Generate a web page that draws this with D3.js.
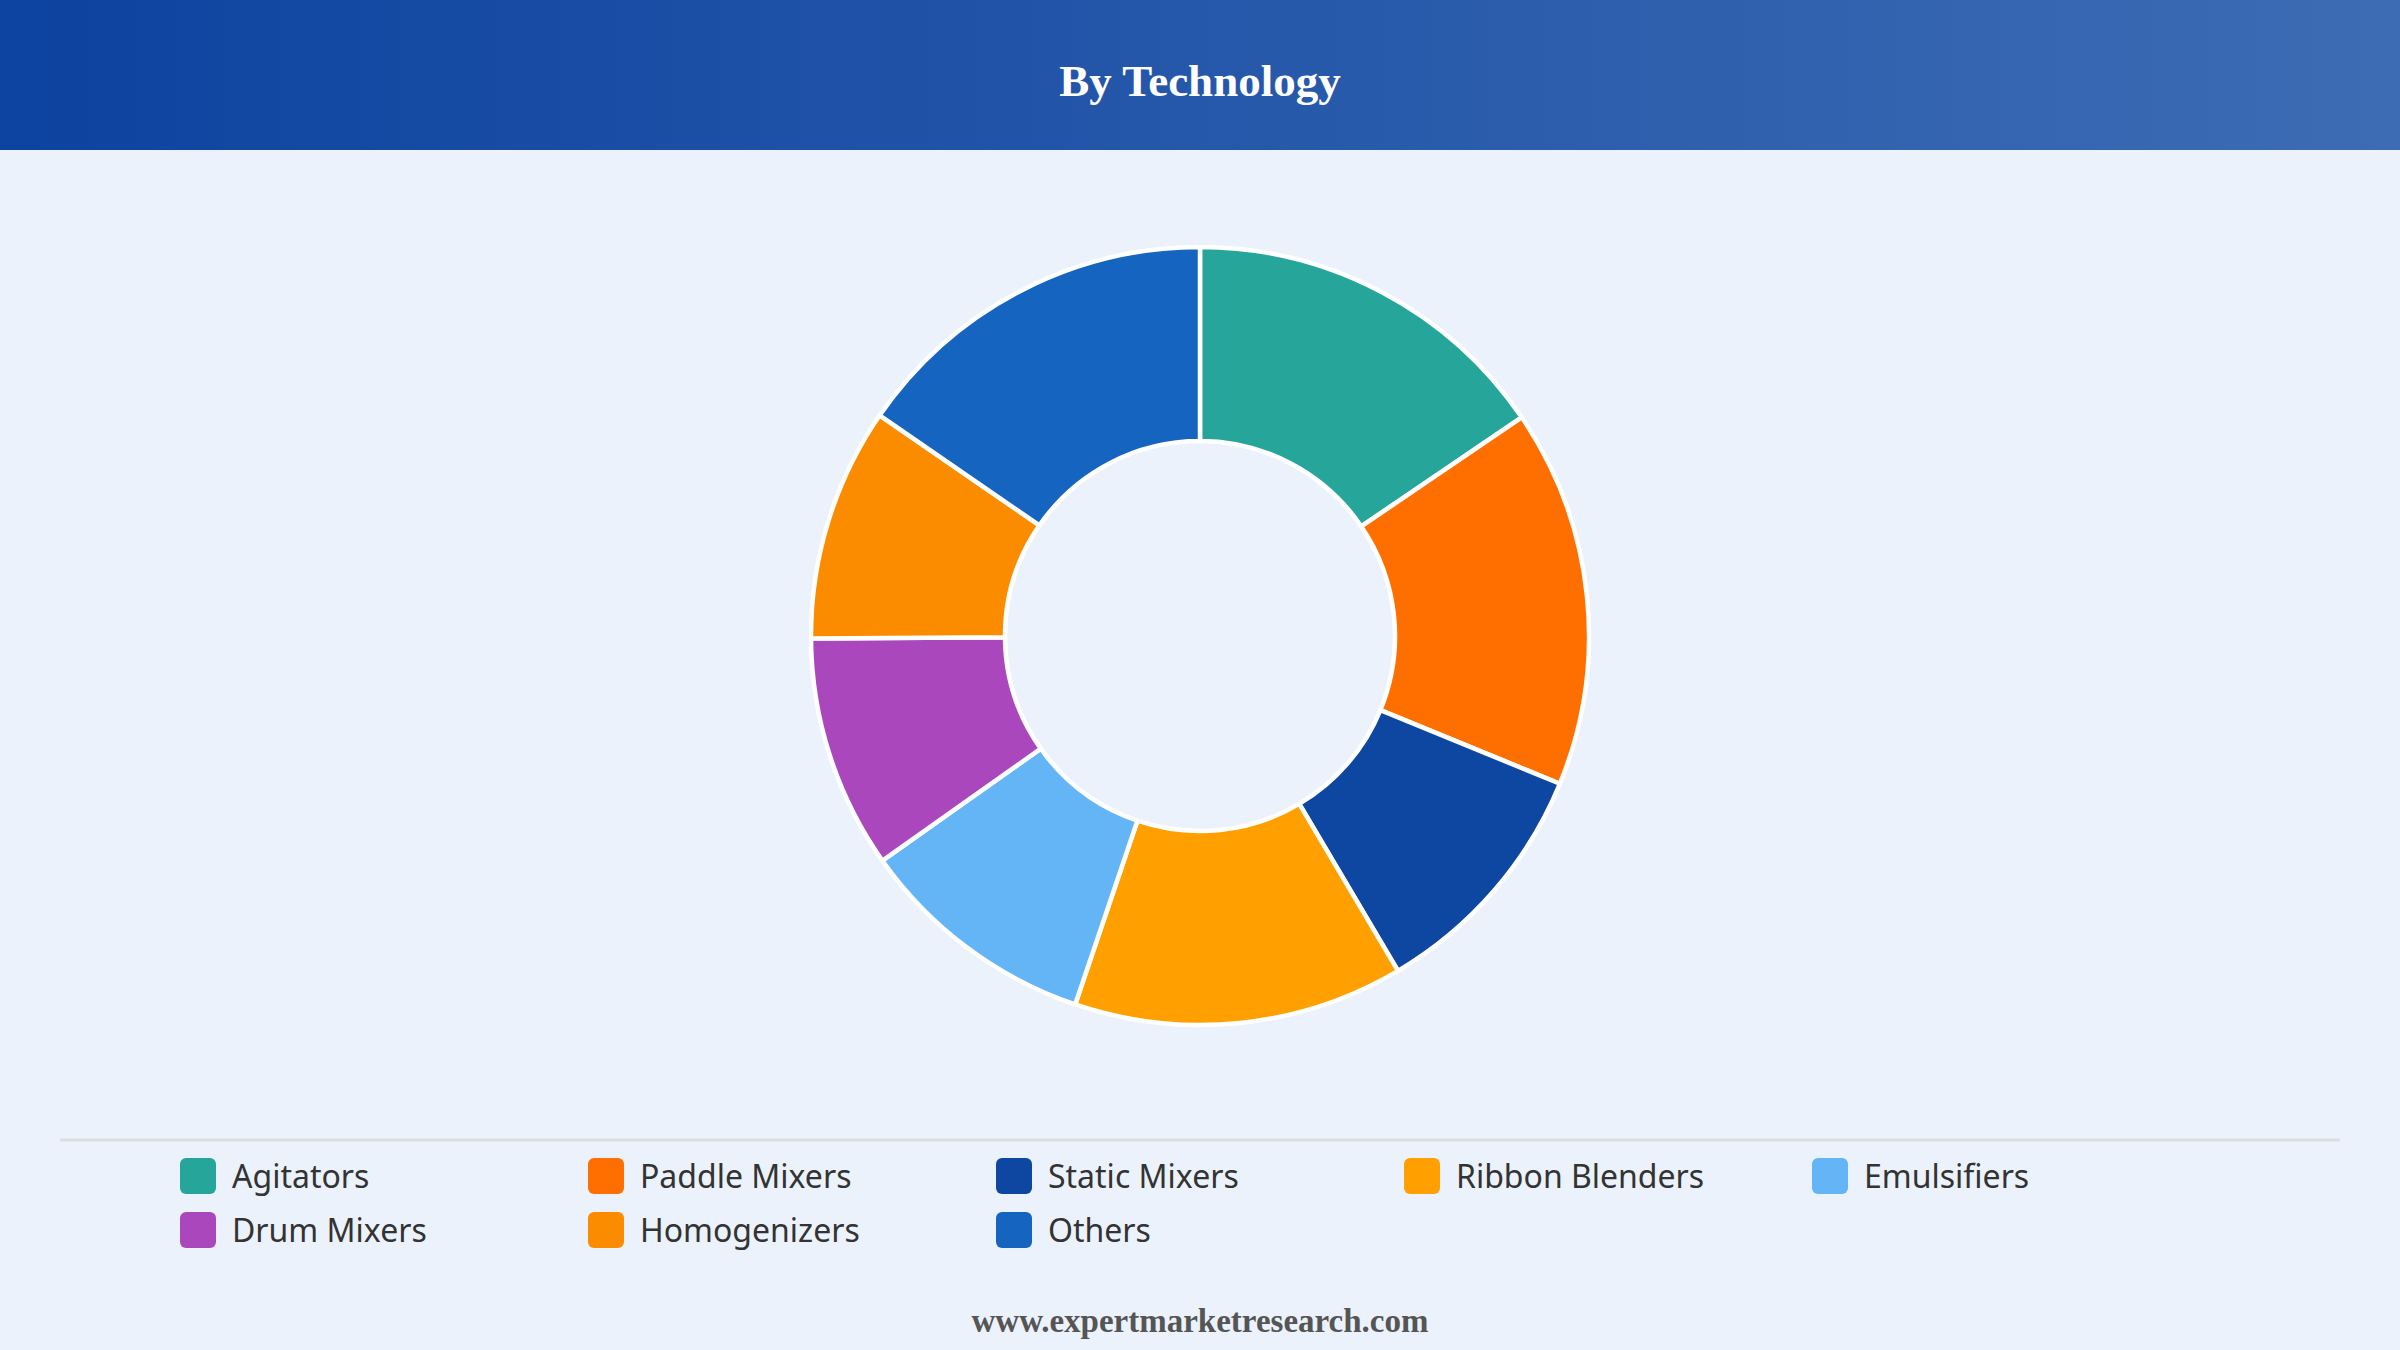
<!DOCTYPE html>
<html lang="en">
<head>
    <meta charset="UTF-8">
    <title>By Technology</title>
    <style>
        body, html { margin: 0; padding: 0; width: 2400px; height: 1350px; overflow: hidden; background: #EBF2FB; }
        svg { display: block; }
        .legend text { font-family: "Noto Sans", sans-serif; font-size: 32px; fill: #333; }
    </style>
</head>
<body>
    <svg></svg>
    <script src="https://d3js.org/d3.v7.min.js"></script>
    <script>
        const categories = ['Agitators', 'Paddle Mixers', 'Static Mixers', 'Ribbon Blenders',
            'Emulsifiers', 'Drum Mixers', 'Homogenizers', 'Others'];
        const shares = [15.5, 15.7, 10.3, 13.7, 10.0, 9.7, 9.7, 15.4];
        const colors = ['#26A69A', '#FF6F00', '#0D47A1', '#FFA000',
            '#64B5F6', '#AB47BC', '#FB8C00', '#1565C0'];

        const width = 2400, height = 1350;
        const svg = d3.select("svg").attr("width", width).attr("height", height);

        // header band with gradient
        const defs = svg.append("defs");
        const grad = defs.append("linearGradient").attr("id", "hdr")
            .attr("x1", "0%").attr("x2", "100%").attr("y1", "0%").attr("y2", "0%");
        grad.append("stop").attr("offset", "0%").attr("stop-color", "#0D43A0");
        grad.append("stop").attr("offset", "100%").attr("stop-color", "#3D6CB4");

        svg.append("rect").attr("width", width).attr("height", 150).attr("fill", "url(#hdr)");
        svg.append("text")
            .attr("x", width / 2).attr("y", 96)
            .attr("text-anchor", "middle")
            .style("font-family", "'Liberation Serif', 'Times New Roman', serif")
            .style("font-weight", "bold").style("font-size", "45px")
            .attr("fill", "#fff")
            .text("By Technology");

        // donut
        const cx = 1200, cy = 636, outerR = 389, innerR = 195;
        const pie = d3.pie().sort(null).value(d => d.value);
        const arc = d3.arc().innerRadius(innerR).outerRadius(outerR);
        const data = categories.map((c, i) => ({ name: c, value: shares[i], color: colors[i] }));

        svg.append("g")
            .attr("transform", `translate(${cx},${cy})`)
            .selectAll("path")
            .data(pie(data))
            .enter().append("path")
            .attr("d", arc)
            .attr("fill", d => d.data.color)
            .attr("stroke", "#fff")
            .attr("stroke-width", 4.5)
            .attr("stroke-linejoin", "round");

        // divider above legend
        svg.append("line")
            .attr("x1", 60).attr("x2", 2340)
            .attr("y1", 1140).attr("y2", 1140)
            .attr("stroke", "#DADDE2").attr("stroke-width", 3);

        // legend, 5 per row
        const colX = d3.scaleLinear().domain([0, 1]).range([180, 588]);
        const rowY = d3.scaleLinear().domain([0, 1]).range([1158, 1212]);
        const legend = svg.append("g").attr("class", "legend")
            .selectAll("g")
            .data(data)
            .enter().append("g")
            .attr("transform", (d, i) => `translate(${colX(i % 5)},${rowY(Math.floor(i / 5))})`);

        legend.append("rect")
            .attr("width", 36).attr("height", 36)
            .attr("rx", 6).attr("ry", 6)
            .attr("fill", d => d.color);
        legend.append("text")
            .attr("x", 52).attr("y", 18)
            .attr("dy", "0.36em")
            .text(d => d.name);

        // footer
        svg.append("text")
            .attr("x", width / 2).attr("y", 1332)
            .attr("text-anchor", "middle")
            .style("font-family", "'Liberation Serif', 'Times New Roman', serif")
            .style("font-weight", "bold").style("font-size", "33px")
            .attr("fill", "#555")
            .text("www.expertmarketresearch.com");
    </script>
</body>
</html>
